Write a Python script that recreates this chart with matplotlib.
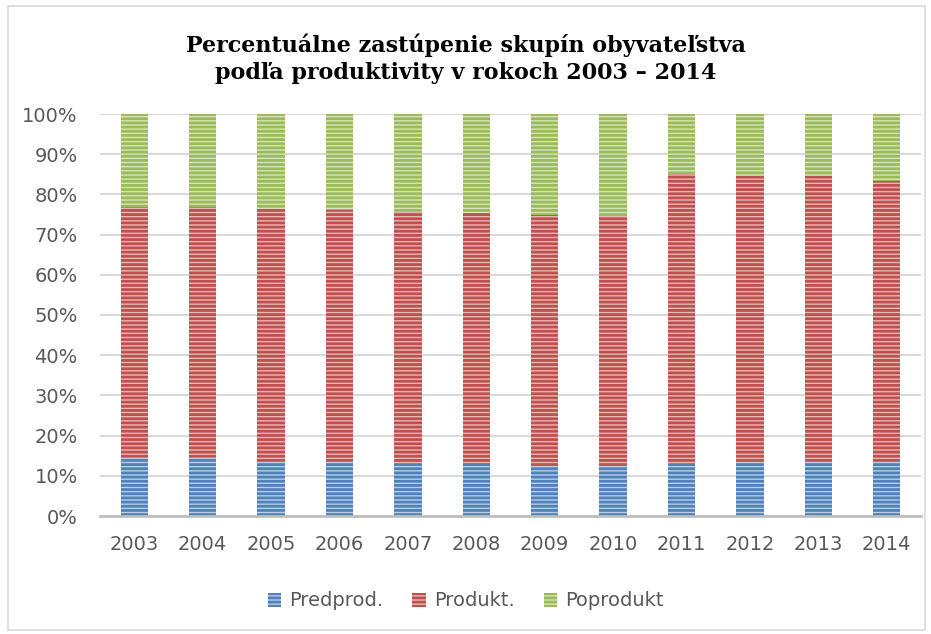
import matplotlib
matplotlib.use("Agg")
import matplotlib.pyplot as plt
from matplotlib.patches import Rectangle
from matplotlib.ticker import PercentFormatter
import numpy as np

years = ["2003", "2004", "2005", "2006", "2007", "2008",
         "2009", "2010", "2011", "2012", "2013", "2014"]
predprod = [14.6, 14.6, 13.8, 13.7, 13.2, 12.9, 12.6, 12.6, 13.2, 13.5, 13.7, 13.7]
produkt_top = [76.9, 76.9, 76.3, 76.0, 75.6, 75.3, 75.0, 74.7, 85.0, 84.5, 84.5, 83.3]
produkt = [t - p for t, p in zip(produkt_top, predprod)]
poprodukt = [100 - t for t in produkt_top]

series = [("Predprod.", predprod, "#4F81BD", "#B9CDE5"),
          ("Produkt.", produkt, "#C0504D", "#E6B9B8"),
          ("Poprodukt", poprodukt, "#9BBB59", "#D7E4BD")]

plt.rcParams['font.family'] = ['DejaVu Sans']
plt.rcParams['hatch.linewidth'] = 2.0

fig = plt.figure(figsize=(9.31, 6.34), dpi=100)
ax = fig.add_axes([100/931, 1 - 516/634, 821/931, 402/634])

x = np.arange(len(years))
bottom = np.zeros(len(years))
for name, vals, col, light in series:
    ax.bar(x, vals, 0.4, bottom=bottom, color=light, edgecolor=col,
           hatch='----', linewidth=0, label=name)
    bottom += np.array(vals)

ax.set_xlim(-0.5, len(years) - 0.5)
ax.set_ylim(0, 100)
ax.set_yticks(range(0, 101, 10))
ax.yaxis.set_major_formatter(PercentFormatter(decimals=0))
ax.set_xticks(x)
ax.set_xticklabels(years)
ax.grid(axis='y', color='#D9D9D9', linewidth=1.5)
ax.set_axisbelow(True)
for s in ['top', 'right', 'left']:
    ax.spines[s].set_visible(False)
ax.spines['bottom'].set_color('#BFBFBF')
ax.spines['bottom'].set_linewidth(2)
ax.tick_params(length=0, labelsize=14, colors='#595959')
ax.tick_params(axis='x', pad=14)
ax.tick_params(axis='y', pad=16)

fig.text(0.5, 1 - 45/634, "Percentuálne zastúpenie skupín obyvateľstva",
         ha='center', va='center', fontsize=16, fontweight='bold',
         family=['DejaVu Serif'])
fig.text(0.5, 1 - 73/634, "podľa produktivity v rokoch 2003 – 2014",
         ha='center', va='center', fontsize=16, fontweight='bold',
         family=['DejaVu Serif'])

leg = fig.legend(loc='center', bbox_to_anchor=(0.5, 1 - 601/634), ncol=3,
                 frameon=False, fontsize=14, handlelength=0.7, handleheight=0.7,
                 columnspacing=1.5, handletextpad=0.4)
for t in leg.get_texts():
    t.set_color('#595959')

fig.patches.append(Rectangle((8/931, 4/634), 917/931, 624/634, transform=fig.transFigure,
                             fill=False, edgecolor='#D9D9D9', linewidth=1.2))

fig.savefig("out.png", dpi=100)
